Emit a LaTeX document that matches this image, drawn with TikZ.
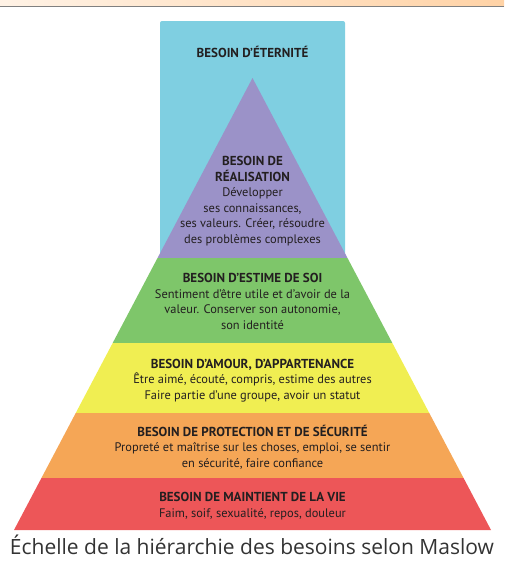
\documentclass[tikz,border=0pt]{standalone}
\usepackage{fontspec}
\setmainfont{PT Sans}
\newfontfamily\captionfont{Open Sans}
\usetikzlibrary{positioning}

\definecolor{eternite}{RGB}{127,207,225}
\definecolor{realisation}{RGB}{155,146,200}
\definecolor{estime}{RGB}{126,198,106}
\definecolor{amour}{RGB}{240,238,82}
\definecolor{securite}{RGB}{245,166,86}
\definecolor{survie}{RGB}{237,86,88}
\definecolor{encre}{RGB}{35,31,32}

\newcommand{\titrebesoin}[1]{{\fontsize{13}{15.6}\selectfont\bfseries #1}}

\tikzset{
  besoin/.style={align=center, text=encre, inner sep=0pt,
    font=\fontsize{12.4}{15.6}\selectfont}
}

\begin{document}
\begin{tikzpicture}[x=1pt,y=-1pt]
  \useasboundingbox (0,0) rectangle (504,562);
  % bandeau du haut
  \shade[left color=orange!10, right color=orange!35] (0,0) rectangle (504,6);
  \draw[gray, line width=1pt] (0,6.5) -- (504,6.5);

  % besoin d'eternite
  \fill[eternite, rounded corners=2pt] (160,21) rectangle (345,262);

  \coordinate (sommet) at (252.5,78);
  \coordinate (baseg) at (14,530);
  \coordinate (based) at (491,530);

  \begin{scope}
    \clip (sommet) -- (baseg) -- (based) -- cycle;
    \fill[realisation] (0,70) rectangle (504,258);
    \fill[estime] (0,258) rectangle (504,343);
    \fill[amour] (0,343) rectangle (504,413);
    \fill[securite] (0,413) rectangle (504,478);
    \fill[survie] (0,478) rectangle (504,531);
  \end{scope}

  % textes
  \node[besoin] (eter) at (252.5,52) {\titrebesoin{BESOIN D’ÉTERNITÉ}};
  \node[besoin] (real) at (252.5,201) {\titrebesoin{BESOIN DE}\\\titrebesoin{RÉALISATION}\\Développer\\ses connaissances,\\ses valeurs. Créer, résoudre\\des problèmes complexes};
  \node[besoin] (esti) at (252.5,301.5) {\titrebesoin{BESOIN D’ESTIME DE SOI}\\Sentiment d’être utile et d’avoir de la\\valeur. Conserver son autonomie,\\son identité};
  \node[besoin] (amou) at (252.5,380.5) {\titrebesoin{BESOIN D’AMOUR, D’APPARTENANCE}\\Être aimé, écouté, compris, estime des autres\\Faire partie d’une groupe, avoir un statut};
  \node[besoin] (secu) at (252.5,447) {\titrebesoin{BESOIN DE PROTECTION ET DE SÉCURITÉ}\\Propreté et maîtrise sur les choses, emploi, se sentir\\en sécurité, faire confiance};
  \node[besoin] (vie) at (252.5,506) {\titrebesoin{BESOIN DE MAINTIENT DE LA VIE}\\Faim, soif, sexualité, repos, douleur};

  \node[text=black!80, inner sep=0pt, font=\captionfont\fontsize{21}{24}\selectfont]
    (legende) at (252,545) {Échelle de la hiérarchie des besoins selon Maslow};
\end{tikzpicture}
\end{document}
